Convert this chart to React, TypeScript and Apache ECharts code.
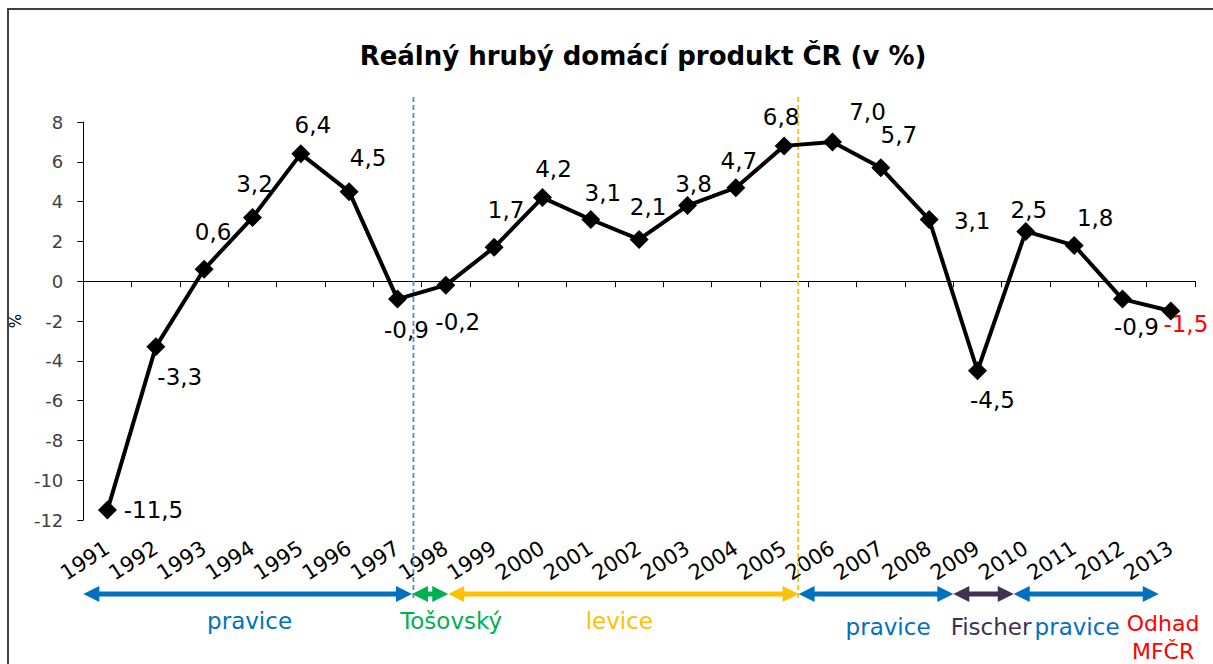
import React, { useEffect, useRef } from 'react';
import * as echarts from 'echarts';

const years = ['1991', '1992', '1993', '1994', '1995', '1996', '1997', '1998', '1999', '2000', '2001', '2002', '2003', '2004', '2005', '2006', '2007', '2008', '2009', '2010', '2011', '2012', '2013'];
const gdp = [-11.5, -3.3, 0.6, 3.2, 6.4, 4.5, -0.9, -0.2, 1.7, 4.2, 3.1, 2.1, 3.8, 4.7, 6.8, 7.0, 5.7, 3.1, -4.5, 2.5, 1.8, -0.9, -1.5];
const yMin = -12;
const yMax = 8;
const yStep = 2;

// label placement offsets (style only)
const labelOffsets: [number, number][] = [
  [46, 0], [24, 30], [9, -37], [2, -34], [12, -29], [19, -34], [9, 31], [12, 37],
  [12, -37], [11, -29], [12, -27], [9, -32], [6, -22], [3, -27], [-3, -29], [35, -30],
  [18, -33], [43, 1], [15, 29], [3, -21], [21, -27], [14, 28], [15, 13],
];
const estimateIndex = 22;

// political periods along the time axis (fractional years)
const periodBounds = [1990.5, 1997.3, 1998.05, 2005.3, 2008.5, 2009.75, 2012.75];
const periodNames = ['pravice', 'Tošovský', 'levice', 'pravice', 'Fischer', 'pravice'];
const periodLabelYears = [1993.94, 1998.11, 2001.59, 2007.15, 2009.28, 2011.06];
const periodColors = ['#0070C0', '#00B050', '#FFC000', '#0070C0', '#403152', '#0070C0'];
const dividerYears = [1997.33, 2005.29];
const dividerColors = ['#5588CC', '#FFC000'];
const estimateLabelYear = 2012.84;
const estimateLabel = ['Odhad', 'MFČR'];

const FONT = '"DejaVu Sans", Verdana, sans-serif';

const fmt = (v: number) => v.toFixed(1).replace('.', ',');

export default function App() {
  const ref = useRef<HTMLDivElement>(null);
  useEffect(() => {
    if (!ref.current) return;
    const chart = echarts.init(ref.current, undefined, { renderer: 'svg' });
    chart.setOption({
      animation: false,
      backgroundColor: '#fff',
      grid: { left: 83, right: 18, top: 122, bottom: 144, containLabel: false },
      xAxis: [
        {
          type: 'category',
          data: years,
          boundaryGap: true,
          position: 'bottom',
          axisLine: { onZero: true, lineStyle: { color: '#000', width: 1 } },
          axisTick: { show: true, alignWithLabel: false, length: 6, lineStyle: { color: '#000' } },
          axisLabel: { show: false },
        },
        {
          type: 'category',
          data: years,
          boundaryGap: true,
          position: 'bottom',
          axisLine: { show: false, onZero: false },
          axisTick: { show: false },
          axisLabel: {
            show: true,
            rotate: 33,
            margin: 26,
            fontSize: 21,
            color: '#000',
            fontFamily: FONT,
            interval: 0,
          },
        },
      ],
      yAxis: {
        type: 'value',
        min: yMin,
        max: yMax,
        interval: yStep,
        name: '%',
        nameLocation: 'middle',
        nameGap: 50,
        nameRotate: 90,
        nameTextStyle: { fontSize: 15, color: '#000', fontFamily: FONT },
        axisLine: { show: true, lineStyle: { color: '#000', width: 1 } },
        axisTick: { show: true, length: 6, lineStyle: { color: '#000' } },
        axisLabel: { fontSize: 18, color: '#404040', fontFamily: FONT, margin: 20 },
        splitLine: { show: false },
      },
      series: [
        {
          type: 'line',
          xAxisIndex: 0,
          data: gdp.map((v, i) => ({
            value: v,
            label: {
              show: true,
              position: 'inside',
              offset: labelOffsets[i],
              align: 'center',
              verticalAlign: 'middle',
              fontSize: 23,
              fontFamily: FONT,
              color: i === estimateIndex ? '#FF0000' : '#000',
            },
          })),
          symbol: 'diamond',
          symbolSize: 19,
          itemStyle: { color: '#000' },
          lineStyle: { color: '#000', width: 4 },
          label: {
            show: true,
            fontSize: 23,
            fontFamily: FONT,
            formatter: (p: any) => fmt(p.value),
          },
        },
      ],
    });

    const p0 = chart.convertToPixel({ xAxisIndex: 0 }, 0) as number;
    const p1 = chart.convertToPixel({ xAxisIndex: 0 }, 1) as number;
    const step = p1 - p0;
    const px = (year: number) => p0 + (year - 1991) * step;

    const arrowY = 594;
    const headL = 16;
    const headH = 8;
    const graphic: any[] = [];
    graphic.push({
      type: 'rect',
      shape: { x: 8, y: 9, width: 1400, height: 800 },
      style: { fill: 'none', stroke: '#404040', lineWidth: 2 },
      silent: true,
      z: 0,
    });
    graphic.push({
      type: 'text',
      x: 643,
      y: 56,
      style: {
        text: 'Reálný hrubý domácí produkt ČR (v %)',
        fontSize: 26,
        fontWeight: 'bold',
        fontFamily: FONT,
        fill: '#000',
        textAlign: 'center',
        textVerticalAlign: 'middle',
      },
    });
    dividerYears.forEach((yr, i) => {
      const x = px(yr);
      graphic.push({
        type: 'line',
        shape: { x1: x, y1: 97, x2: x, y2: 598 },
        style: { stroke: dividerColors[i], lineWidth: 1.8, lineDash: [5, 3] },
        z: 1,
      });
    });
    for (let i = 0; i < periodNames.length; i++) {
      const x0 = px(periodBounds[i]);
      const x1 = px(periodBounds[i + 1]);
      const c = periodColors[i];
      graphic.push({
        type: 'line',
        shape: { x1: x0 + headL - 2, y1: arrowY, x2: x1 - headL + 2, y2: arrowY },
        style: { stroke: c, lineWidth: 5 },
      });
      graphic.push({
        type: 'polygon',
        shape: { points: [[x0, arrowY], [x0 + headL, arrowY - headH], [x0 + headL, arrowY + headH]] },
        style: { fill: c },
      });
      graphic.push({
        type: 'polygon',
        shape: { points: [[x1, arrowY], [x1 - headL, arrowY - headH], [x1 - headL, arrowY + headH]] },
        style: { fill: c },
      });
      graphic.push({
        type: 'text',
        x: px(periodLabelYears[i]),
        y: i < 3 ? 621 : 627,
        style: {
          text: periodNames[i],
          fontSize: 23,
          fontFamily: FONT,
          fill: c,
          textAlign: 'center',
          textVerticalAlign: 'middle',
        },
      });
    }
    estimateLabel.forEach((t, i) => {
      graphic.push({
        type: 'text',
        x: px(estimateLabelYear),
        y: 623 + i * 28,
        style: {
          text: t,
          fontSize: 22,
          fontFamily: FONT,
          fill: '#FF0000',
          textAlign: 'center',
          textVerticalAlign: 'middle',
        },
      });
    });
    chart.setOption({ graphic });

    return () => chart.dispose();
  }, []);
  return (
    <div
      ref={ref}
      style={{ position: 'absolute', left: 0, top: 0, width: 1213, height: 664, background: '#fff' }}
    />
  );
}
